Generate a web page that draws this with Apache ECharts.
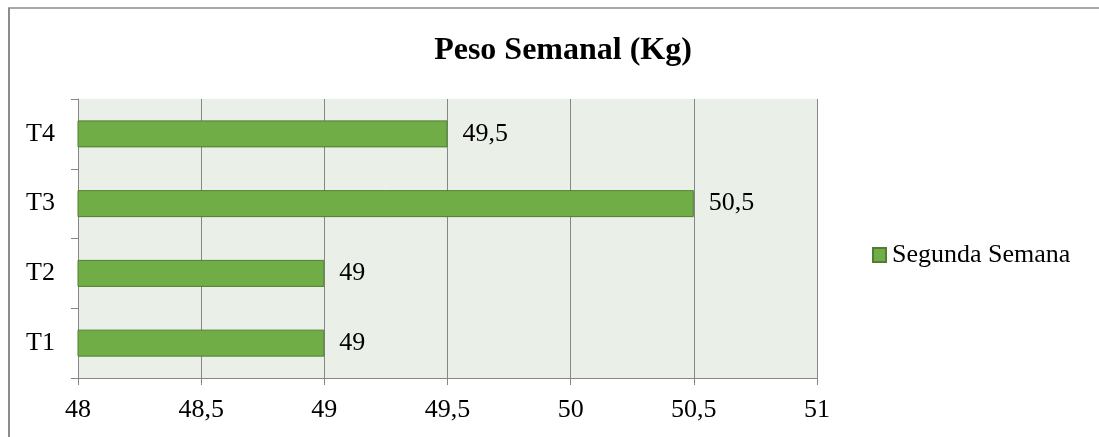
<!DOCTYPE html>
<html><head><meta charset="utf-8">
<script src="https://cdn.jsdelivr.net/npm/echarts@6/dist/echarts.min.js"></script>
<style>html,body{margin:0;padding:0;background:#fff}#c{width:1099px;height:437px}</style>
</head><body><div id="c"></div>
<script>
const categories = ['T1','T2','T3','T4'];
const segundaSemana = [49, 49, 50.5, 49.5];
const seriesName = 'Segunda Semana';
const titleText = 'Peso Semanal (Kg)';
const xMin = 48, xMax = 51, xStep = 0.5;

const fmt = v => String(v).replace('.', ',');
const font = 'Liberation Serif';
const chart = echarts.init(document.getElementById('c'));
chart.setOption({
  animation: false,
  textStyle: {fontFamily: font},
  title: {text: titleText, left: 558, top: 30, textAlign: 'center',
    textStyle: {fontFamily: font, fontSize: 32, fontWeight: 'bold', color: '#000'}},
  legend: {data: [seriesName], left: 867, top: 237, itemWidth: 13, itemHeight: 14, itemGap: 4,
    icon: 'rect', textStyle: {fontFamily: font, fontSize: 26, color: '#000', padding: [0,0,0,1]}},
  grid: {left: 78, right: 282, top: 99, bottom: 59, show: true, backgroundColor: '#EAEFE8', borderWidth: 0},
  graphic: [
    {type: 'line', shape: {x1: 9, y1: 8, x2: 9, y2: 437}, style: {stroke: '#8c8c8c', lineWidth: 2}},
    {type: 'line', shape: {x1: 8, y1: 8, x2: 1099, y2: 8}, style: {stroke: '#8c8c8c', lineWidth: 1.5}}
  ],
  xAxis: {type: 'value', min: xMin, max: xMax, interval: xStep,
    axisLine: {show: true, lineStyle: {color: '#868686'}},
    axisTick: {show: true, length: 7, lineStyle: {color: '#868686'}},
    axisLabel: {formatter: fmt, fontFamily: font, fontSize: 26, color: '#000', margin: 19},
    splitLine: {show: true, lineStyle: {color: '#868686', width: 1}}},
  yAxis: {type: 'category', data: categories,
    axisLine: {show: true, lineStyle: {color: '#868686'}},
    axisTick: {show: true, length: 7, lineStyle: {color: '#868686'}},
    axisLabel: {fontFamily: font, fontSize: 26, color: '#000', margin: 23}},
  series: [
    {type: 'bar', name: seriesName, data: segundaSemana, barWidth: 27,
     itemStyle: {color: '#70AD47', borderColor: '#507E32', borderWidth: 1},
     label: {show: true, position: 'right', distance: 15, formatter: p => fmt(p.value),
       fontFamily: font, fontSize: 26, color: '#000'}}
  ]
});
</script></body></html>
